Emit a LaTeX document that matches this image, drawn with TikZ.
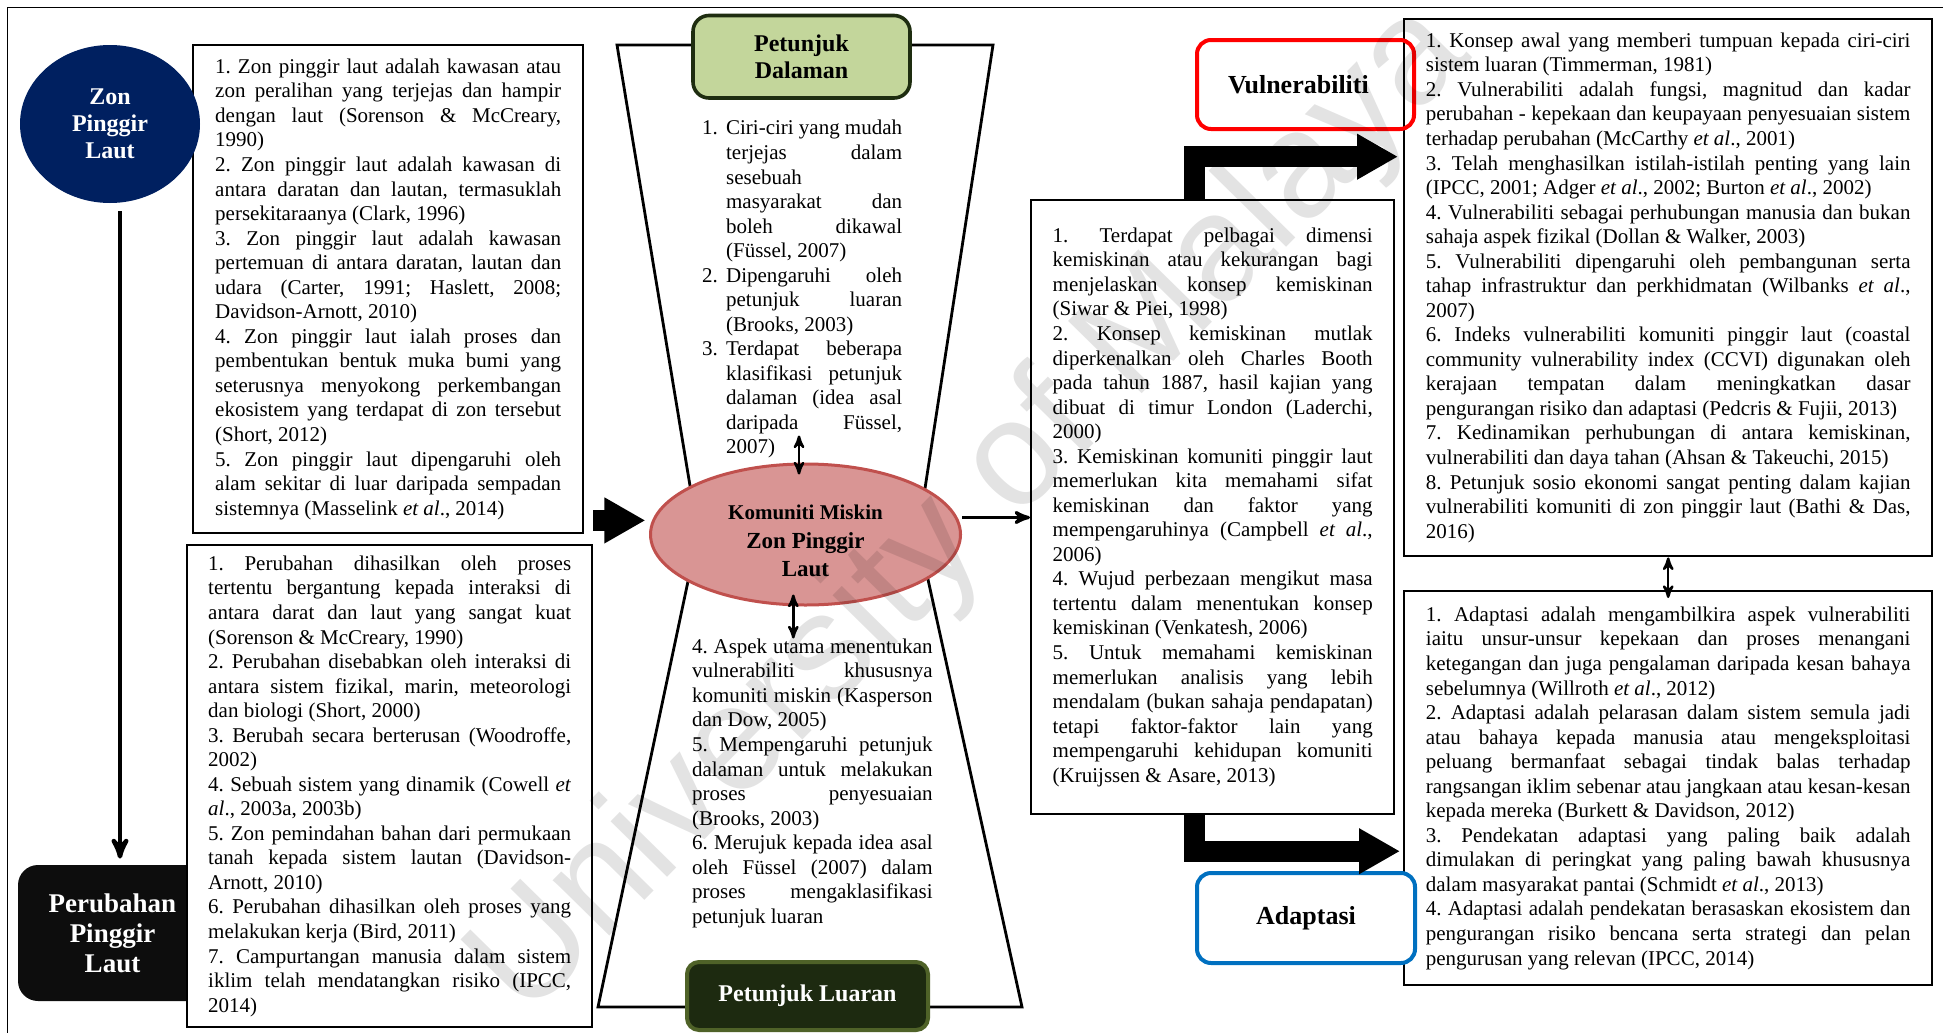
\documentclass[tikz,border=0pt]{standalone}
\usepackage{fontspec}
\setmainfont{Liberation Serif}
\setsansfont{Liberation Sans}
\usepackage{tikz}
\usetikzlibrary{arrows,arrows.meta,shapes.geometric,positioning,calc}

\definecolor{zonblue}{HTML}{002060}
\definecolor{ubahblack}{HTML}{0D0D0D}
\definecolor{dalamfill}{HTML}{C3D69B}
\definecolor{dalamline}{HTML}{1E2D10}
\definecolor{luarfill}{HTML}{1D2A10}
\definecolor{luarline}{HTML}{4F6228}
\definecolor{miskinfill}{HTML}{D99594}
\definecolor{miskinline}{HTML}{C0504D}
\definecolor{vulnred}{HTML}{FF0000}
\definecolor{adapblue}{HTML}{0070C0}

\newcommand*{\etal}{\textit{et al}.}
\newcommand*{\numitem}[1]{\par\noindent\hangindent=12pt\hangafter=1\makebox[12pt][l]{#1}}
\hyphenpenalty=10000
\exhyphenpenalty=10000
\tolerance=10000
\adjdemerits=0
\frenchspacing

\begin{document}
\begin{tikzpicture}[>=stealth', x=0.5pt, y=-0.5pt]
    \tikzstyle{txtbox}=[draw=black, line width=1.2pt, fill=white, anchor=north west, align=justify, inner ysep=0pt, font=\fontsize{10.5}{12.27}\selectfont]
    \tikzstyle{listtxt}=[anchor=north west, align=justify, inner sep=0pt, font=\fontsize{10.5}{12.27}\selectfont]
    \tikzstyle{headbox}=[rounded corners=7pt, line width=2pt, align=center, font=\bfseries\fontsize{13}{15}\selectfont]
    \tikzstyle{flow}=[->, line width=1.6pt]
    \tikzstyle{twoway}=[<->, line width=1.2pt]
    \tikzstyle{bigarrow}=[line width=10.5pt, -{Triangle[length=20.5pt, width=21.5pt]}]

    \useasboundingbox (0,0) rectangle (1943,1033);
    \draw[line width=0.8pt] (1943,7.5) -- (7.5,7.5) -- (7.5,1033);
    \draw[line width=1.4pt] (617,45) -- (993,45) -- (918,534) -- (1022,1007) -- (598,1007) -- (698,534) -- cycle;

    \node[txtbox, text width=173pt, inner xsep=11pt, minimum height=244pt] (zonbox) at (192,44) {1. Zon pinggir laut adalah kawasan atau\linebreak zon peralihan yang terjejas dan hampir\linebreak dengan laut (Sorenson \& McCreary,\linebreak 1990)\\
        2. Zon pinggir laut adalah kawasan di\linebreak antara daratan dan lautan, termasuklah\linebreak persekitaraanya (Clark, 1996)\\
        3. Zon pinggir laut adalah kawasan\linebreak pertemuan di antara daratan, lautan dan\linebreak udara (Carter, 1991; Haslett, 2008;\linebreak Davidson-Arnott, 2010)\\
        4. Zon pinggir laut ialah proses dan\linebreak pembentukan bentuk muka bumi yang\linebreak seterusnya menyokong perkembangan\linebreak ekosistem yang terdapat di zon tersebut\linebreak (Short, 2012)\\
        5. Zon pinggir laut dipengaruhi oleh\linebreak alam sekitar di luar daripada sempadan\linebreak sistemnya (Masselink \etal, 2014)};
    \node[ellipse, fill=zonblue, text=white, minimum width=90pt, minimum height=79pt, inner sep=0pt, align=center, font=\bfseries\fontsize{12}{13.5}\selectfont] (zon) at (110,124) {Zon\\Pinggir\\Laut};

    \node[rounded corners=10pt, fill=ubahblack, text=white, minimum width=94.5pt, minimum height=68pt, align=center, font=\bfseries\fontsize{13.5}{15}\selectfont] (ubah) at (112.5,933) {Perubahan\\Pinggir\\Laut};
    \node[txtbox, text width=181.5pt, inner xsep=10.5pt, minimum height=241pt] (ubahbox) at (186,544) {1. Perubahan dihasilkan oleh proses\linebreak tertentu bergantung kepada interaksi di\linebreak antara darat dan laut yang sangat kuat\linebreak (Sorenson \& McCreary, 1990)\\
        2. Perubahan disebabkan oleh interaksi di\linebreak antara sistem fizikal, marin, meteorologi\linebreak dan biologi (Short, 2000)\\
        3. Berubah secara berterusan (Woodroffe,\linebreak 2002)\\
        4. Sebuah sistem yang dinamik (Cowell \textit{et}\linebreak \textit{al}., 2003a, 2003b)\\
        5. Zon pemindahan bahan dari permukaan\linebreak tanah kepada sistem lautan (Davidson-\linebreak Arnott, 2010)\\
        6. Perubahan dihasilkan oleh proses yang\linebreak melakukan kerja (Bird, 2011)\\
        7. Campurtangan manusia dalam sistem\linebreak iklim telah mendatangkan risiko (IPCC,\linebreak 2014)};

    \node[listtxt, text width=100pt] (dalamantext) at (701.7,110) {\numitem{1.}Ciri-ciri yang mudah\linebreak terjejas dalam\linebreak sesebuah\\ masyarakat dan\linebreak boleh dikawal\linebreak (Füssel, 2007)
        \numitem{2.}Dipengaruhi oleh\linebreak petunjuk luaran\linebreak (Brooks, 2003)
        \numitem{3.}Terdapat beberapa\linebreak klasifikasi petunjuk\linebreak dalaman (idea asal\linebreak daripada Füssel,\linebreak 2007)\par};
    \node[listtxt, text width=120.3pt] (luarantext) at (691.7,638.4) {4. Aspek utama menentukan\linebreak vulnerabiliti khususnya\linebreak komuniti miskin (Kasperson\linebreak dan Dow, 2005)\\
        5. Mempengaruhi petunjuk\linebreak dalaman untuk melakukan\linebreak proses penyesuaian\linebreak (Brooks, 2003)\\
        6. Merujuk kepada idea asal\linebreak oleh Füssel (2007) dalam\linebreak proses mengaklasifikasi\linebreak petunjuk luaran};
    \node[headbox, rounded corners=8pt, draw=dalamline, line width=1.8pt, fill=dalamfill, minimum width=108.5pt, minimum height=41.25pt, font=\bfseries\fontsize{12}{13.8}\selectfont] (dalaman) at (801.5,56.75) {Petunjuk\\Dalaman};
    \node[headbox, rounded corners=6pt, draw=luarline, fill=luarfill, text=white, minimum width=120.5pt, minimum height=34pt, font=\bfseries\fontsize{12}{13.8}\selectfont] (luaran) at (807.5,996) {Petunjuk Luaran};
    \node[ellipse, draw=miskinline, line width=1.5pt, fill=miskinfill, minimum width=155pt, minimum height=70.5pt, inner sep=0pt, align=center, font=\bfseries\fontsize{11.5}{14.2}\selectfont] (komuniti) at (805.5,534.5) {\rule{0pt}{14pt}{\fontsize{10.5}{14}\selectfont Komuniti Miskin}\\Zon Pinggir\\Laut};

    \node[txtbox, text width=160pt, inner xsep=10.75pt, minimum height=307pt] (miskinbox) at (1030,199) {1. Terdapat pelbagai dimensi\linebreak kemiskinan atau kekurangan bagi\linebreak menjelaskan konsep kemiskinan\linebreak (Siwar \& Piei, 1998)\\
        2. Konsep kemiskinan mutlak\linebreak diperkenalkan oleh Charles Booth\linebreak pada tahun 1887, hasil kajian yang\linebreak dibuat di timur London (Laderchi,\linebreak 2000)\\
        3. Kemiskinan komuniti pinggir laut\linebreak memerlukan kita memahami sifat\linebreak kemiskinan dan faktor yang\linebreak mempengaruhinya (Campbell \etal,\linebreak 2006)\\
        4. Wujud perbezaan mengikut masa\linebreak tertentu dalam menentukan konsep\linebreak kemiskinan (Venkatesh, 2006)\\
        5. Untuk memahami kemiskinan\linebreak memerlukan analisis yang lebih\linebreak mendalam (bukan sahaja pendapatan)\linebreak tetapi faktor-faktor lain yang\linebreak mempengaruhi kehidupan komuniti\linebreak (Kruijssen \& Asare, 2013)};
    \node[txtbox, text width=242.3pt, inner xsep=10.85pt, minimum height=268.5pt] (vulntext) at (1403,18) {1. Konsep awal yang memberi tumpuan kepada ciri-ciri\linebreak sistem luaran (Timmerman, 1981)\\
        2. Vulnerabiliti adalah fungsi, magnitud dan kadar\linebreak perubahan - kepekaan dan keupayaan penyesuaian sistem\linebreak terhadap perubahan (McCarthy \etal, 2001)\\
        3. Telah menghasilkan istilah-istilah penting yang lain\linebreak (IPCC, 2001; Adger \etal, 2002; Burton \etal, 2002)\\
        4. Vulnerabiliti sebagai perhubungan manusia dan bukan\linebreak sahaja aspek fizikal (Dollan \& Walker, 2003)\\
        5. Vulnerabiliti dipengaruhi oleh pembangunan serta\linebreak tahap infrastruktur dan perkhidmatan (Wilbanks \etal,\linebreak 2007)\\
        6. Indeks vulnerabiliti komuniti pinggir laut (coastal\linebreak community vulnerability index (CCVI) digunakan oleh\linebreak kerajaan tempatan dalam meningkatkan dasar\linebreak pengurangan risiko dan adaptasi (Pedcris \& Fujii, 2013)\\
        7. Kedinamikan perhubungan di antara kemiskinan,\linebreak vulnerabiliti dan daya tahan (Ahsan \& Takeuchi, 2015)\\
        8. Petunjuk sosio ekonomi sangat penting dalam kajian\linebreak vulnerabiliti komuniti di zon pinggir laut (Bathi \& Das,\linebreak 2016)};
    \node[txtbox, text width=242.3pt, inner xsep=10.85pt, minimum height=197pt] (adaptext) at (1403,590) {1. Adaptasi adalah mengambilkira aspek vulnerabiliti\linebreak iaitu unsur-unsur kepekaan dan proses menangani\linebreak ketegangan dan juga pengalaman daripada kesan bahaya\linebreak sebelumnya (Willroth \etal, 2012)\\
        2. Adaptasi adalah pelarasan dalam sistem semula jadi\linebreak atau bahaya kepada manusia atau mengeksploitasi\linebreak peluang bermanfaat sebagai tindak balas terhadap\linebreak rangsangan iklim sebenar atau jangkaan atau kesan-kesan\linebreak kepada mereka (Burkett \& Davidson, 2012)\\
        3. Pendekatan adaptasi yang paling baik adalah\linebreak dimulakan di peringkat yang paling bawah khususnya\linebreak dalam masyarakat pantai (Schmidt \etal, 2013)\\
        4. Adaptasi adalah pendekatan berasaskan ekosistem dan\linebreak pengurangan risiko bencana serta strategi dan pelan\linebreak pengurusan yang relevan (IPCC, 2014)};
    \node[headbox, draw=vulnred, minimum width=108.5pt, minimum height=44.5pt] (vuln) at (1305.5,84.5) {Vulnerabiliti\hspace*{7pt}};
    \node[headbox, draw=adapblue, fill=white, minimum width=109pt, minimum height=45pt] (adap) at (1306,918) {Adaptasi};

    \draw[flow, line width=2.25pt] ([xshift=5pt,yshift=-4pt]zon.south) -- ([xshift=3.75pt,yshift=3pt]ubah.north);
    \draw[bigarrow] ([xshift=4.5pt,yshift=7pt]zonbox.south east) -- ++(52,0);
    \draw[twoway] ([xshift=-3.25pt,yshift=13.5pt]komuniti.north) -- ([xshift=-3.25pt,yshift=-6pt]komuniti.north);
    \draw[twoway] ([xshift=-6.1pt,yshift=6pt]komuniti.south) -- ([xshift=-6.1pt,yshift=-16pt]komuniti.south);
    \draw[flow] ([yshift=8.5pt]komuniti.east) -- ([yshift=8.5pt]komuniti.east -| miskinbox.west);
    \draw[bigarrow] ([xshift=-8.9pt]miskinbox.north) |- ([xshift=-2.5pt,yshift=65.5pt]vulntext.west);
    \draw[bigarrow] ([xshift=-8.9pt]miskinbox.south) |- ([xshift=-1.5pt,yshift=-31.5pt]adaptext.west);
    \draw[twoway] (vulntext.south) -- ([yshift=-4pt]adaptext.north);

    \node[rotate=45.5, text=black, opacity=0.11, font=\sffamily\fontsize{75}{75}\selectfont] (mark) at (972,512) {University of Malaya};
\end{tikzpicture}
\end{document}
